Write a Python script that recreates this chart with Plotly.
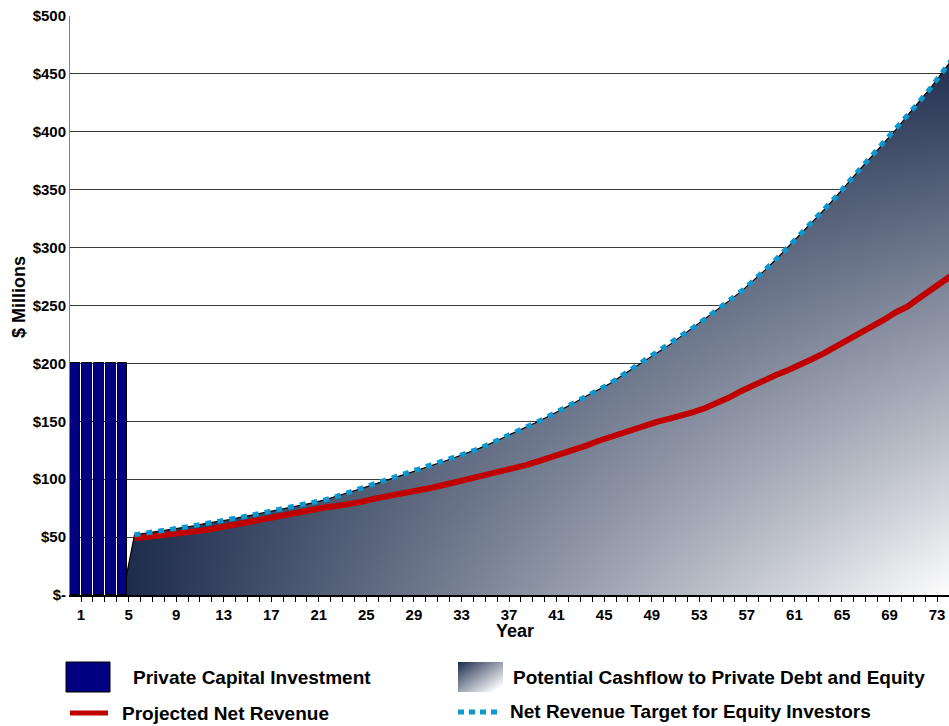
import base64
import plotly.graph_objects as go

# ---------------- data ----------------
invest_years = [1, 2, 3, 4, 5]
private_capital = [200, 200, 200, 200, 200]          # $ millions per year

revenue_years = list(range(6, 76))                   # operating years
net_revenue_target = [
    52.0, 53.4, 54.9, 56.4, 58.2, 59.8, 61.8, 63.3, 65.2, 67.2,
    69.3, 71.3, 73.3, 75.3, 77.3, 79.6, 82.2, 85.1, 88.5, 91.7,
    95.2, 98.6, 101.8, 105.0, 108.3, 111.6, 115.3, 119.0, 122.8, 126.6,
    131.1, 135.8, 140.1, 145.0, 150.0, 155.3, 160.5, 166.0, 171.8, 177.0,
    182.7, 189.6, 196.0, 202.5, 209.5, 216.0, 223.5, 231.0, 238.5, 246.0,
    254.0, 262.0, 271.0, 280.3, 290.4, 300.8, 311.5, 322.0, 332.7, 344.0,
    356.0, 367.6, 378.8, 390.3, 401.5, 414.0, 426.0, 438.5, 452.0, 466.0,
]
projected_net_revenue = [
    49.0, 50.0, 51.0, 52.0, 53.0, 54.2, 56.0, 58.0, 60.0, 62.0,
    64.0, 66.3, 68.6, 70.6, 72.3, 73.9, 75.5, 76.9, 78.3, 80.2,
    82.8, 84.5, 86.3, 88.2, 90.6, 92.6, 95.0, 97.5, 99.5, 101.9,
    104.5, 106.7, 109.2, 112.3, 115.6, 118.7, 122.0, 125.5, 129.0, 133.0,
    136.5, 140.0, 143.6, 146.6, 149.8, 152.3, 154.8, 158.0, 161.5, 165.5,
    170.5, 176.0, 181.0, 185.5, 190.2, 194.3, 198.5, 203.8, 208.8, 214.3,
    220.5, 225.6, 231.5, 237.5, 244.0, 249.0, 256.5, 264.0, 271.0, 278.0,
]

# potential cashflow area: zero in the last construction year, then the target
cashflow_years = [5] + revenue_years
potential_cashflow = [0.0] + net_revenue_target

year_labels = list(range(1, 74, 4))                  # 1, 5, 9, ... 73
boundary_years = list(range(0, 75))
y_ticks = list(range(0, 501, 50))
y_tick_text = ["$-"] + ["${}".format(v) for v in y_ticks[1:]]

# ---------------- styling ----------------
W, H = 949, 726
FONT = "Liberation Sans"
NAVY = "#000080"
DARK = "#1c2b4b"
RED = "#C00000"
BLUE = "#0E98D0"
X_RANGE = [0.575, 74.5]
Y_RANGE = [0, 500]


def px_x(p):
    return p / W


def px_y(p):
    return 1 - p / H


fig = go.Figure()

# gradient area: horizontal ramp, then a dark vertical overlay to darken the top
fig.add_trace(go.Scatter(
    x=cashflow_years, y=potential_cashflow, mode="lines",
    line=dict(width=0), fill="tozeroy",
    fillgradient=dict(type="horizontal",
                      colorscale=[[0, DARK], [1, "#ffffff"]],
                      start=5, stop=75),
    hoverinfo="skip", showlegend=False,
))
fig.add_trace(go.Scatter(
    x=cashflow_years, y=potential_cashflow, mode="lines",
    line=dict(color="black", width=1.2), fill="tozeroy",
    fillgradient=dict(type="vertical",
                      colorscale=[[0, "rgba(28,43,75,0)"], [1, "rgba(28,43,75,1)"]],
                      start=0, stop=470),
    hoverinfo="skip", showlegend=False,
))

fig.add_trace(go.Scatter(
    x=revenue_years, y=projected_net_revenue, mode="lines",
    line=dict(color=RED, width=6), showlegend=False,
))
fig.add_trace(go.Scatter(
    x=revenue_years, y=net_revenue_target, mode="lines",
    line=dict(color=BLUE, width=5, dash="6px,6px"), showlegend=False,
))

# construction-period capital bars, on an overlay so they sit above the area
fig.add_trace(go.Bar(
    x=invest_years, y=private_capital, width=0.82,
    marker=dict(color=NAVY, line=dict(color="black", width=1)),
    xaxis="x2", yaxis="y2", showlegend=False,
))

tick_font = dict(family=FONT, size=15, color="black", weight="bold")
title_font = dict(family=FONT, size=18, color="black", weight="bold")

fig.update_layout(
    width=W, height=H,
    margin=dict(l=0, r=0, t=0, b=0),
    paper_bgcolor="white", plot_bgcolor="white",
    showlegend=False,
    xaxis=dict(
        domain=[px_x(70), 1], range=X_RANGE, automargin=False,
        tickmode="array",
        tickvals=[b + 0.5 for b in boundary_years],
        ticktext=[str(b) if b in year_labels else "" for b in boundary_years],
        ticks="outside", ticklen=5, tickcolor="black", tickwidth=1,
        tickfont=tick_font, showgrid=False, zeroline=False,
        showline=True, linecolor="black", linewidth=1.5,
    ),
    yaxis=dict(
        domain=[1 - 595 / H, 1 - 16 / H], range=Y_RANGE, automargin=False,
        tickmode="array", tickvals=y_ticks, ticktext=y_tick_text,
        ticks="", tickfont=tick_font,
        showgrid=True, gridcolor="#3a3a3a", gridwidth=1, zeroline=False,
        showline=True, linecolor="#808080", linewidth=1,
    ),
    xaxis2=dict(overlaying="x", anchor="y2", range=X_RANGE, visible=False),
    yaxis2=dict(overlaying="y", anchor="x2", range=Y_RANGE, visible=False),
    bargap=0,
)

# axis titles
fig.add_annotation(text="Year", xref="paper", yref="paper",
                   x=px_x(515), y=px_y(631), xanchor="center", yanchor="middle",
                   showarrow=False, font=title_font)
fig.add_annotation(text="$ Millions", xref="paper", yref="paper",
                   x=px_x(19), y=px_y(297), xanchor="center", yanchor="middle",
                   textangle=-90, showarrow=False, font=title_font)

# ---------------- legend (drawn below the plot) ----------------
legend_font = dict(family=FONT, size=19, color="black", weight="bold")

fig.add_shape(type="rect", xref="paper", yref="paper",
              x0=px_x(66), x1=px_x(110), y0=px_y(692), y1=px_y(662),
              fillcolor=NAVY, line=dict(color="black", width=1))
fig.add_shape(type="line", xref="paper", yref="paper",
              x0=px_x(70), x1=px_x(108), y0=px_y(713), y1=px_y(713),
              line=dict(color=RED, width=5))
fig.add_shape(type="line", xref="paper", yref="paper",
              x0=px_x(458), x1=px_x(501), y0=px_y(712), y1=px_y(712),
              line=dict(color=BLUE, width=5, dash="6px,5px"))

swatch_svg = (
    '<svg xmlns="http://www.w3.org/2000/svg" width="45" height="30" '
    'viewBox="0 0 45 30" preserveAspectRatio="none">'
    '<defs><linearGradient id="g" x1="0" y1="0" x2="1" y2="1">'
    '<stop offset="0" stop-color="#1c2b4b"/>'
    '<stop offset="0.9" stop-color="#ffffff"/>'
    '</linearGradient></defs>'
    '<rect width="45" height="30" fill="url(#g)"/></svg>'
)
fig.add_layout_image(dict(
    source="data:image/svg+xml;base64," + base64.b64encode(swatch_svg.encode()).decode(),
    xref="paper", yref="paper", x=px_x(458), y=px_y(662),
    sizex=45 / W, sizey=30 / H, xanchor="left", yanchor="top",
    sizing="stretch", layer="above",
))

legend_entries = [
    ("Private Capital Investment", 131, 677),
    ("Potential Cashflow to Private Debt and Equity", 511, 677),
    ("Projected Net Revenue", 120, 713),
    ("Net Revenue Target for Equity Investors", 508, 711),
]
for text, lx, ly in legend_entries:
    fig.add_annotation(text=text, xref="paper", yref="paper",
                       x=px_x(lx), y=px_y(ly), xanchor="left", yanchor="middle",
                       showarrow=False, font=legend_font)

fig.write_html("out.html", config={"displayModeBar": False})
